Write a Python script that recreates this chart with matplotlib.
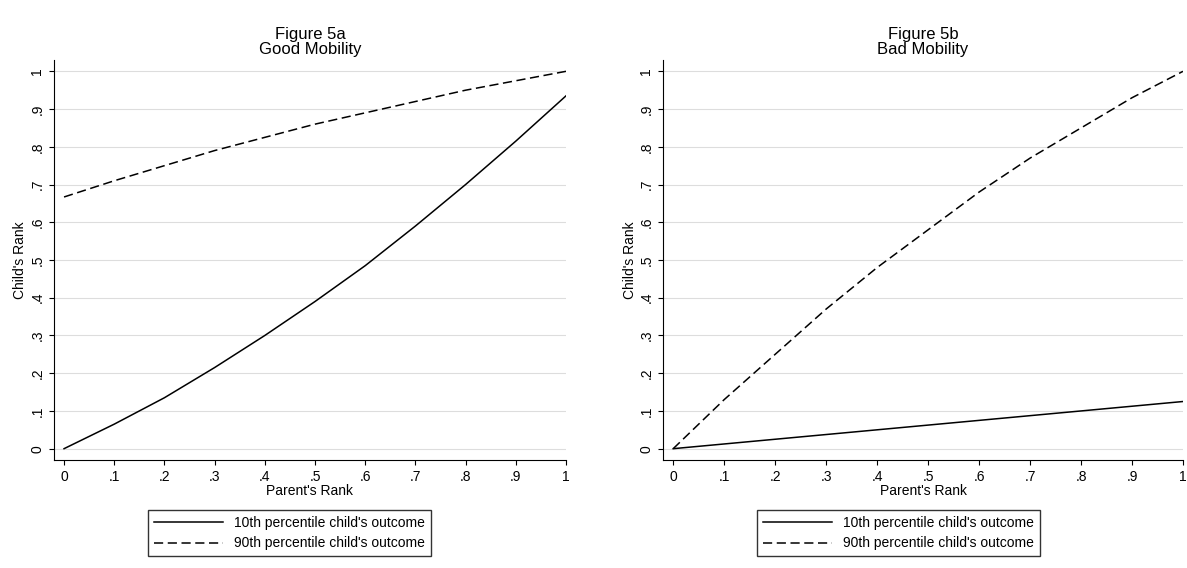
import matplotlib
matplotlib.use("Agg")
import matplotlib.pyplot as plt

x = [0, .1, .2, .3, .4, .5, .6, .7, .8, .9, 1]
a_p10 = [0, .065, .135, .215, .30, .39, .485, .59, .70, .815, .935]
a_p90 = [.667, .71, .75, .79, .825, .86, .89, .92, .95, .975, 1.0]
b_p10 = [0, .0125, .025, .0375, .05, .0625, .075, .0875, .10, .1125, .125]
b_p90 = [0, .13, .25, .37, .48, .58, .68, .77, .85, .93, 1.0]
titles = ["Figure 5a\nGood Mobility", "Figure 5b\nBad Mobility"]
xt = [0, .1, .2, .3, .4, .5, .6, .7, .8, .9, 1]
lab = ["0", ".1", ".2", ".3", ".4", ".5", ".6", ".7", ".8", ".9", "1"]

plt.rcParams['font.family'] = ['Liberation Sans', 'DejaVu Sans']
W, H = 1187, 568
fig = plt.figure(figsize=(W / 100, H / 100), dpi=100)
# (p10, p90, axes left px, axes width px, legend left px)
panels = [(a_p10, a_p90, 54, 512, 148), (b_p10, b_p90, 663, 520, 757)]
for (p10, p90, left, width, lleft), t in zip(panels, titles):
    ax = fig.add_axes([left / W, 1 - 460 / H, width / W, 400 / H])
    l1, = ax.plot(x, p10, color='black', lw=1.1)
    l2, = ax.plot(x, p90, color='black', lw=1.1, dashes=(6, 3))
    ax.set_xlim(-0.02, 1.0)
    ax.set_ylim(-0.03, 1.03)
    ax.set_xticks(xt, lab, fontsize=10)
    ax.set_yticks(xt, lab, fontsize=10, rotation=90, va='center')
    ax.yaxis.grid(True, color='#dddddd', lw=0.8)
    ax.set_axisbelow(True)
    for s in ['top', 'right']:
        ax.spines[s].set_visible(False)
    ax.set_xlabel("Parent's Rank", fontsize=10, labelpad=0)
    ax.set_ylabel("Child's Rank", fontsize=10, labelpad=2)
    ax.set_title(t, fontsize=12, pad=4, linespacing=1.0)
    fig.legend([l1, l2], ["10th percentile child's outcome", "90th percentile child's outcome"],
               loc='upper left', bbox_to_anchor=(lleft / W, 1 - 510 / H),
               fontsize=10, frameon=True, fancybox=False, edgecolor='black',
               handlelength=5, borderpad=0.4, labelspacing=0.5, borderaxespad=0)
fig.savefig("out.png", dpi=100)
